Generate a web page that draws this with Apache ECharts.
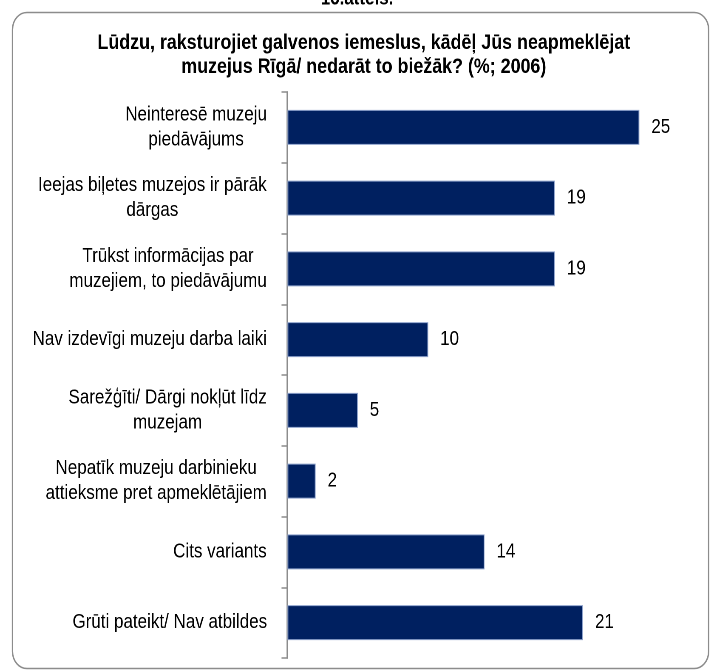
<!DOCTYPE html>
<html>
<head>
<meta charset="utf-8">
<script src="https://cdn.jsdelivr.net/npm/echarts@6/dist/echarts.min.js"></script>
<style>
  html, body { margin: 0; padding: 0; background: #ffffff; overflow: hidden; width: 710px; height: 671px; }
  #wrap { width: 710px; height: 671px; overflow: hidden; position: relative; }
  /* the reference glyphs are horizontally condensed; the chart is drawn in a wider
     logical space and squeezed horizontally */
  #chart { width: 835px; height: 671px; transform: scaleX(0.85); transform-origin: 0 0; }
</style>
</head>
<body>
<div id="wrap"><div id="chart"></div></div>
<script>
const figureLabel = '16.attēls.';
const titleLines = [
  'Lūdzu, raksturojiet galvenos iemeslus, kādēļ Jūs neapmeklējat',
  'muzejus Rīgā/ nedarāt to biežāk? (%; 2006)'
];
const categories = [
  'Neinteresē muzeju\npiedāvājums',
  'Ieejas biļetes muzejos ir pārāk\ndārgas',
  'Trūkst informācijas par\nmuzejiem, to piedāvājumu',
  'Nav izdevīgi muzeju darba laiki',
  'Sarežģīti/ Dārgi nokļūt līdz\nmuzejam',
  'Nepatīk muzeju darbinieku\nattieksme pret apmeklētājiem',
  'Cits variants',
  'Grūti pateikt/ Nav atbildes'
];
const values = [25, 19, 19, 10, 5, 2, 14, 21];

const FAMILY = "'Liberation Sans', Arial, sans-serif";
const LABEL_SIZE = 20;
const TITLE_SIZE = 21;

const cv = document.createElement('canvas');
const ctx = cv.getContext('2d');
function measure(text, font) { ctx.font = font; return ctx.measureText(text).width; }

const rich = {};
categories.forEach((c, i) => {
  const w = Math.max(...c.split('\n').map(l => measure(l, LABEL_SIZE + 'px ' + FAMILY)));
  rich['r' + i] = {
    width: Math.ceil(w) + 1,
    align: 'center',
    fontSize: LABEL_SIZE,
    fontFamily: FAMILY,
    color: '#000000',
    lineHeight: 25
  };
});

const chart = echarts.init(document.getElementById('chart'), null, { renderer: 'canvas', devicePixelRatio: 2 });
chart.setOption({
  animation: false,
  backgroundColor: '#ffffff',
  graphic: [
    {
      type: 'rect',
      shape: { x: 14.7, y: 12.5, width: 819, height: 656, r: 17 },
      style: { fill: 'none', stroke: '#8c8c8c', lineWidth: 1.6 },
      silent: true
    },
    {
      type: 'text',
      x: 420, y: 9,
      style: {
        text: figureLabel,
        fontFamily: FAMILY, fontWeight: 'bold', fontSize: 20,
        fill: '#000000', align: 'center', verticalAlign: 'bottom'
      }
    },
    {
      type: 'text',
      x: 428, y: 55,
      style: {
        text: titleLines.join('\n'),
        fontFamily: FAMILY, fontWeight: 'bold', fontSize: TITLE_SIZE,
        lineHeight: 24,
        fill: '#000000', align: 'center', verticalAlign: 'middle'
      }
    }
  ],
  grid: { left: 338.2, right: 0, top: 92, bottom: 13, containLabel: false },
  xAxis: {
    type: 'value', min: 0, max: 30,
    show: false
  },
  yAxis: {
    type: 'category',
    data: categories,
    inverse: true,
    axisLine: { show: true, lineStyle: { color: '#8c8c8c', width: 1.8 } },
    axisTick: { show: true, length: 7, lineStyle: { color: '#8c8c8c', width: 1.5 } },
    axisLabel: {
      margin: 23.5,
      align: 'right',
      formatter: (value, index) => value.split('\n').map(l => '{r' + index + '|' + l + '}').join('\n'),
      rich: rich
    },
    splitLine: { show: false }
  },
  series: [{
    type: 'bar',
    data: values,
    barWidth: 35,
    itemStyle: { color: '#002060', borderColor: '#8fa3cc', borderWidth: 1 },
    label: {
      show: true,
      position: 'right',
      distance: 14,
      fontFamily: FAMILY,
      fontSize: LABEL_SIZE,
      color: '#000000'
    }
  }]
});
</script>
</body>
</html>
